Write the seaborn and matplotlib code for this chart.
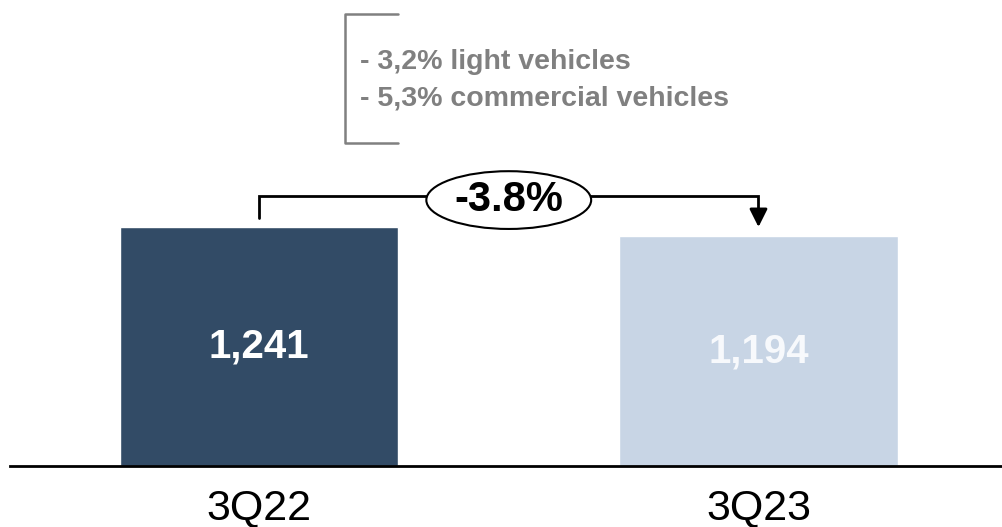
import matplotlib
matplotlib.use("Agg")
import matplotlib.pyplot as plt
from matplotlib.patches import Ellipse
from matplotlib.lines import Line2D
import seaborn as sns

# Data
periods = ["3Q22", "3Q23"]
values = [1241, 1194]
bar_colors = ["#324b66", "#c8d5e5"]
label_colors = ["white", "#f7f9fc"]
change_label = "-3.8%"
notes = ["- 3,2% light vehicles", "- 5,3% commercial vehicles"]

sns.set_theme(style="white")
plt.rcParams['font.family'] = ['Liberation Sans', 'DejaVu Sans']

W, H = 1002, 527
fig = plt.figure(figsize=(W / 100, H / 100), dpi=100)
# axes spans from x=10px to the right edge, baseline 61px above the bottom
ax = fig.add_axes([10 / W, 61 / H, 992 / W, 466 / H])

sns.barplot(x=periods, y=values, hue=periods, palette=bar_colors,
            width=0.557, legend=False, ax=ax, saturation=1)

ax.set_xlim(-0.4985, 1.4875)
ax.set_ylim(0, 2420)

# value labels inside bars
for cont, col in zip(ax.containers, label_colors):
    ax.bar_label(cont, labels=[f"{int(round(v)):,}" for v in cont.datavalues],
                 label_type="center", color=col, fontsize=29, fontweight="bold")

# axis styling
for s in ["top", "left", "right"]:
    ax.spines[s].set_visible(False)
ax.spines["bottom"].set_color("black")
ax.spines["bottom"].set_linewidth(2)
ax.set_yticks([])
ax.set_xlabel("")
ax.set_ylabel("")
ax.tick_params(axis="x", length=0, pad=16, labelsize=31, labelcolor="black")

# connector line with arrow between the bars
gap = 47
top = 1402
ax.plot([0, 0, 1, 1], [values[0] + gap, top, top, values[1] + gap + 80],
        color="black", lw=2, solid_joinstyle="miter", zorder=3)
ax.annotate("", xy=(1, values[1] + gap), xytext=(1, values[1] + gap + 85),
            arrowprops=dict(arrowstyle="-|>,head_width=0.45,head_length=0.9",
                            color="black", lw=2, shrinkA=0, shrinkB=0), zorder=3)
ell = Ellipse((0.5, 1381), width=0.33, height=300, facecolor="white",
              edgecolor="black", lw=1.5, zorder=4)
ax.add_patch(ell)
ax.text(0.5, 1381, change_label, ha="center", va="center", fontsize=30,
        fontweight="bold", color="black", zorder=5)

# bracket with notes
bracket = Line2D([398 / W, 345 / W, 345 / W, 398 / W],
                 [1 - 14 / H, 1 - 14 / H, 1 - 143 / H, 1 - 143 / H],
                 transform=fig.transFigure, color="#808080", lw=1.8)
fig.add_artist(bracket)
for i, note in enumerate(notes):
    fig.text(360 / W, 1 - (62 + 36 * i) / H, note, ha="left", va="center",
             fontsize=20.5, fontweight="bold", color="#808080")

fig.savefig("out.png", dpi=100)
